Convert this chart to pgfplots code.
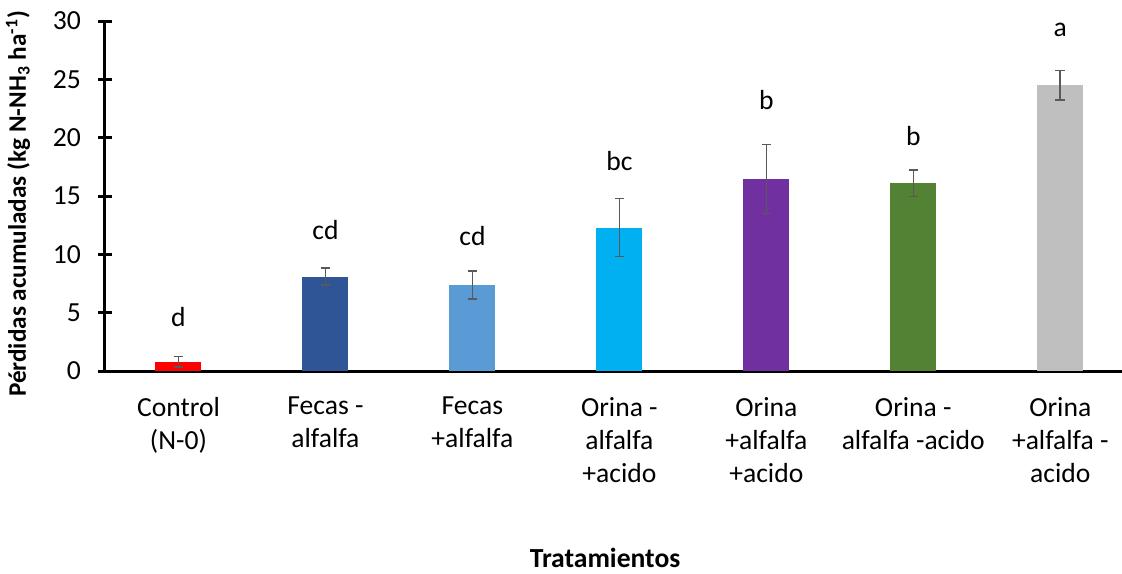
\documentclass[border=0pt]{standalone}
\usepackage{pgfplots}
\pgfplotsset{compat=1.18}
\usepackage{fontspec}
\setmainfont{Carlito}

\definecolor{cRed}{HTML}{FF0000}
\definecolor{cDark}{HTML}{2F5597}
\definecolor{cLight}{HTML}{5B9BD5}
\definecolor{cCyan}{HTML}{00B0F0}
\definecolor{cPurple}{HTML}{7030A0}
\definecolor{cGreen}{HTML}{548235}
\definecolor{cGray}{HTML}{BFBFBF}
\definecolor{errgray}{HTML}{595959}

\begin{document}
\begin{tikzpicture}
\begin{axis}[
    scale only axis,
    width=508.5pt, height=175pt,
    xmin=-0.5, xmax=6.42,
    ymin=0, ymax=30,
    ytick={0,5,...,30},
    xtick={0,1,2,3,4,5,6},
    xticklabels={Control\\(N-0), Fecas -\\alfalfa, Fecas\\+alfalfa,
        Orina -\\alfalfa\\+acido, Orina\\+alfalfa\\+acido,
        Orina -\\alfalfa -acido, Orina\\+alfalfa -\\acido},
    xticklabel style={align=center, font=\fontsize{13.8}{16.5}\selectfont, yshift=-2.5pt},
    yticklabel style={font=\fontsize{13.8}{16}\selectfont, xshift=-5pt},
    /pgf/number format/assume math mode=true,
    axis lines=left,
    axis line style={-, line width=1.5pt, black},
    major x tick style={draw=none},
    major y tick style={line width=1.5pt, black},
    tick align=center,
    major tick length=7pt,
    ylabel={\textbf{Pérdidas acumuladas (kg N-NH\textsubscript{3} ha\textsuperscript{-1})}},
    ylabel style={font=\fontsize{12.6}{14}\selectfont, at={(axis description cs:-0.0855,0.477)}, anchor=center},
    xlabel={\textbf{Tratamientos}},
    xlabel style={font=\fontsize{13.8}{16}\selectfont, at={(axis description cs:0.4917,0)}, anchor=center, yshift=-93.5pt},
    ybar, bar width=23pt, bar shift=0pt,
    error bars/y dir=both, error bars/y explicit,
    error bars/error bar style={errgray, line width=0.8pt},
    error bars/error mark options={rotate=90, mark size=2.4pt, errgray, line width=0.8pt},
    clip=false,
]
\addplot[fill=cRed, draw=none] coordinates {(0,0.8) +- (0,0.45)};
\addplot[fill=cDark, draw=none] coordinates {(1,8.1) +- (0,0.73)};
\addplot[fill=cLight, draw=none] coordinates {(2,7.35) +- (0,1.2)};
\addplot[fill=cCyan, draw=none] coordinates {(3,12.3) +- (0,2.47)};
\addplot[fill=cPurple, draw=none] coordinates {(4,16.45) +- (0,2.95)};
\addplot[fill=cGreen, draw=none] coordinates {(5,16.1) +- (0,1.15)};
\addplot[fill=cGray, draw=none] coordinates {(6,24.5) +- (0,1.25)};
\begin{scope}[every node/.style={font=\fontsize{13.8}{16}\selectfont}]
\node at (axis cs:0,4.6) {d};
\node at (axis cs:1,12.1) {cd};
\node at (axis cs:2,11.6) {cd};
\node at (axis cs:3,18.0) {bc};
\node at (axis cs:4,23.2) {b};
\node at (axis cs:5,20.1) {b};
\node at (axis cs:6,29.2) {a};
\end{scope}
\coordinate (O) at (rel axis cs:0,0);
\end{axis}
\pgfresetboundingbox
\path[use as bounding box] (O) ++(-52.5pt,-101pt) rectangle ++(561pt,286.5pt);
\end{tikzpicture}
\end{document}
